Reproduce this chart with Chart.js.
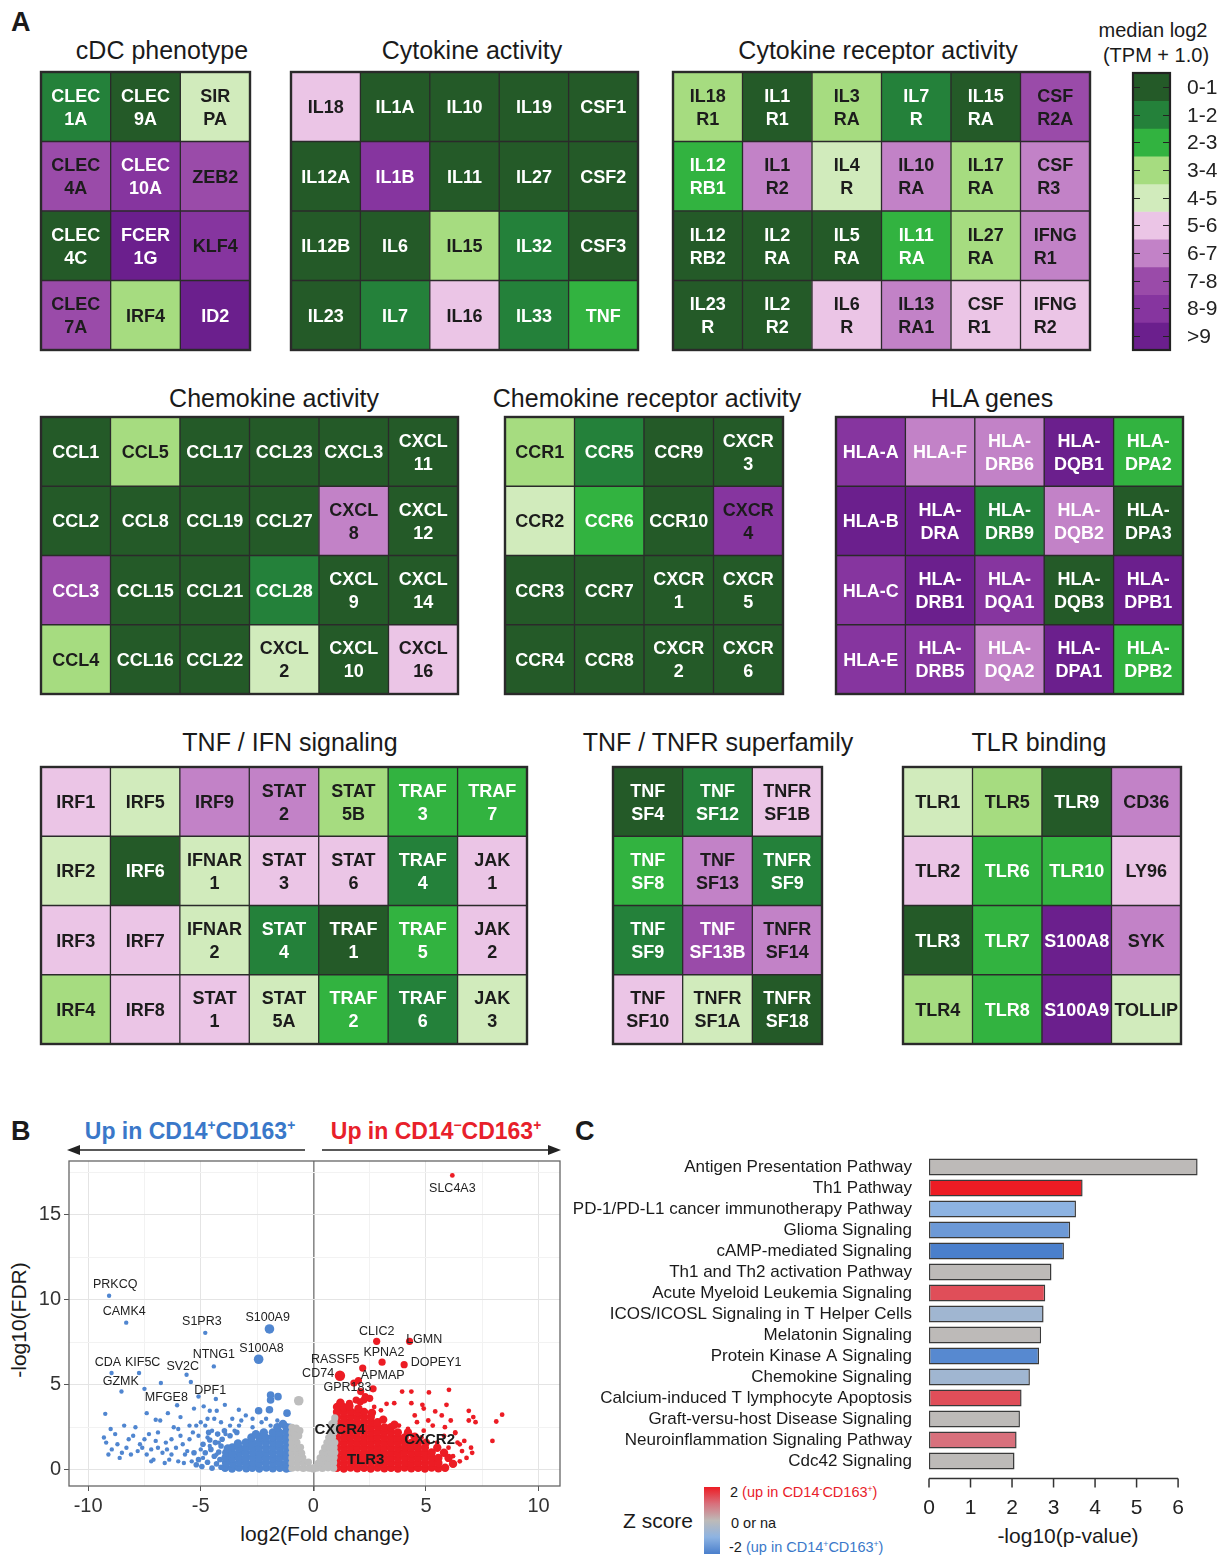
<!DOCTYPE html>
<html><head><meta charset="utf-8">
<script src="https://cdn.jsdelivr.net/npm/chart.js@4.4.1/dist/chart.umd.min.js"></script>
<style>
body{margin:0;background:#fff;width:1220px;height:1555px;position:relative;overflow:hidden;font-family:"Liberation Sans",Arial,sans-serif;color:#1a1a1a}
.t{position:absolute;white-space:nowrap;transform:translate(-50%,-50%);font-size:25px;line-height:1}
.l{position:absolute;white-space:nowrap;line-height:1}
.lt{position:absolute;font-weight:bold;font-size:27px;line-height:1}
canvas{position:absolute;display:block}
sup{font-size:0.6em;vertical-align:0.6em;line-height:0}
</style></head><body>
<div class="lt" style="left:11px;top:9px">A</div>
<div class="lt" style="left:11px;top:1118px">B</div>
<div class="lt" style="left:575px;top:1118px">C</div>

<div class="t" style="left:162px;top:50px">cDC phenotype</div>
<div class="t" style="left:472px;top:50px">Cytokine activity</div>
<div class="t" style="left:878px;top:50px">Cytokine receptor activity</div>
<div class="t" style="left:1153px;top:30px;font-size:20px">median log2</div>
<div class="t" style="left:1156px;top:55px;font-size:20px">(TPM + 1.0)</div>
<div class="t" style="left:274px;top:398px">Chemokine activity</div>
<div class="t" style="left:647px;top:398px">Chemokine receptor activity</div>
<div class="t" style="left:992px;top:398px">HLA genes</div>
<div class="t" style="left:290px;top:742px">TNF / IFN signaling</div>
<div class="t" style="left:718px;top:742px">TNF / TNFR superfamily</div>
<div class="t" style="left:1039px;top:742px">TLR binding</div>

<div class="t" style="left:190px;top:1131px;font-size:23px;font-weight:bold;color:#3a78c9">Up in CD14<sup>+</sup>CD163<sup>+</sup></div>
<div class="t" style="left:436px;top:1131px;font-size:23px;font-weight:bold;color:#e8202a">Up in CD14<sup>&minus;</sup>CD163<sup>+</sup></div>
<svg style="position:absolute;left:0;top:1140px" width="570" height="20">
<line x1="76" y1="10" x2="305" y2="10" stroke="#222" stroke-width="1.4"/>
<polygon points="67,10 80,5 80,15" fill="#222"/>
<line x1="322" y1="10" x2="552" y2="10" stroke="#222" stroke-width="1.4"/>
<polygon points="561,10 548,5 548,15" fill="#222"/>
</svg>
<div class="t" style="left:18px;top:1320px;font-size:21px;transform:translate(-50%,-50%) rotate(-90deg)">-log10(FDR)</div>
<div class="t" style="left:325px;top:1533px;font-size:21px">log2(Fold change)</div>

<div class="t" style="left:1068px;top:1535px;font-size:21px">-log10(p-value)</div>
<div class="t" style="left:658px;top:1520px;font-size:21px">Z score</div>
<div style="position:absolute;left:704px;top:1487px;width:16px;height:67px;background:linear-gradient(to bottom,#ed1c24 0%,#d8707c 25%,#bdbab8 50%,#8db3e2 75%,#4a7fcc 100%)"></div>
<div class="l" style="left:730px;top:1485px;font-size:14.5px">2 <span style="color:#e8202a">(up in CD14<sup>-</sup>CD163<sup>+</sup>)</span></div>
<div class="l" style="left:731px;top:1516px;font-size:14.5px">0 or na</div>
<div class="l" style="left:729px;top:1540px;font-size:14.5px">-2 <span style="color:#3a78c9">(up in CD14<sup>+</sup>CD163<sup>+</sup>)</span></div>

<script>
// ---------------- DATA ----------------
const levelLabels = ['0-1','1-2','2-3','3-4','4-5','5-6','6-7','7-8','8-9','>9'];

const cdcGenes = [
 ['CLEC\n1A','CLEC\n9A','SIR\nPA'],
 ['CLEC\n4A','CLEC\n10A','ZEB2'],
 ['CLEC\n4C','FCER\n1G','KLF4'],
 ['CLEC\n7A','IRF4','ID2']];
const cdcLevels = [[1,0,4],[7,8,7],[0,9,8],[7,3,9]];

const cytoGenes = [
 ['IL18','IL1A','IL10','IL19','CSF1'],
 ['IL12A','IL1B','IL11','IL27','CSF2'],
 ['IL12B','IL6','IL15','IL32','CSF3'],
 ['IL23','IL7','IL16','IL33','TNF']];
const cytoLevels = [[5,0,0,0,0],[0,8,0,0,0],[0,0,3,1,0],[0,1,5,1,2]];

const cytoRecGenes = [
 ['IL18\nR1','IL1\nR1','IL3\nRA','IL7\nR','IL15\nRA','CSF\nR2A'],
 ['IL12\nRB1','IL1\nR2','IL4\nR','IL10\nRA','IL17\nRA','CSF\nR3'],
 ['IL12\nRB2','IL2\nRA','IL5\nRA','IL11\nRA','IL27\nRA','IFNG\nR1'],
 ['IL23\nR','IL2\nR2','IL6\nR','IL13\nRA1','CSF\nR1','IFNG\nR2']];
const cytoRecLevels = [[3,0,3,1,0,7],[2,6,4,6,3,6],[0,0,0,2,3,6],[0,0,5,6,5,5]];

const chemoGenes = [
 ['CCL1','CCL5','CCL17','CCL23','CXCL3','CXCL\n11'],
 ['CCL2','CCL8','CCL19','CCL27','CXCL\n8','CXCL\n12'],
 ['CCL3','CCL15','CCL21','CCL28','CXCL\n9','CXCL\n14'],
 ['CCL4','CCL16','CCL22','CXCL\n2','CXCL\n10','CXCL\n16']];
const chemoLevels = [[0,3,0,0,0,0],[0,0,0,0,6,0],[7,0,0,1,0,0],[3,0,0,4,0,5]];

const chemoRecGenes = [
 ['CCR1','CCR5','CCR9','CXCR\n3'],
 ['CCR2','CCR6','CCR10','CXCR\n4'],
 ['CCR3','CCR7','CXCR\n1','CXCR\n5'],
 ['CCR4','CCR8','CXCR\n2','CXCR\n6']];
const chemoRecLevels = [[3,1,0,0],[4,2,0,8],[0,0,0,0],[0,0,0,0]];

const hlaGenes = [
 ['HLA-A','HLA-F','HLA-\nDRB6','HLA-\nDQB1','HLA-\nDPA2'],
 ['HLA-B','HLA-\nDRA','HLA-\nDRB9','HLA-\nDQB2','HLA-\nDPA3'],
 ['HLA-C','HLA-\nDRB1','HLA-\nDQA1','HLA-\nDQB3','HLA-\nDPB1'],
 ['HLA-E','HLA-\nDRB5','HLA-\nDQA2','HLA-\nDPA1','HLA-\nDPB2']];
const hlaLevels = [[8,6,6,9,2],[9,9,1,6,0],[8,9,8,0,9],[8,8,6,9,2]];

const ifnGenes = [
 ['IRF1','IRF5','IRF9','STAT\n2','STAT\n5B','TRAF\n3','TRAF\n7'],
 ['IRF2','IRF6','IFNAR\n1','STAT\n3','STAT\n6','TRAF\n4','JAK\n1'],
 ['IRF3','IRF7','IFNAR\n2','STAT\n4','TRAF\n1','TRAF\n5','JAK\n2'],
 ['IRF4','IRF8','STAT\n1','STAT\n5A','TRAF\n2','TRAF\n6','JAK\n3']];
const ifnLevels = [[5,4,6,6,3,2,2],[4,0,4,5,5,1,5],[5,5,4,1,0,2,5],[3,5,5,4,2,1,4]];

const tnfGenes = [
 ['TNF\nSF4','TNF\nSF12','TNFR\nSF1B'],
 ['TNF\nSF8','TNF\nSF13','TNFR\nSF9'],
 ['TNF\nSF9','TNF\nSF13B','TNFR\nSF14'],
 ['TNF\nSF10','TNFR\nSF1A','TNFR\nSF18']];
const tnfLevels = [[0,1,5],[2,6,1],[1,7,6],[5,4,0]];

const tlrGenes = [
 ['TLR1','TLR5','TLR9','CD36'],
 ['TLR2','TLR6','TLR10','LY96'],
 ['TLR3','TLR7','S100A8','SYK'],
 ['TLR4','TLR8','S100A9','TOLLIP']];
const tlrLevels = [[4,3,0,6],[5,2,2,5],[0,2,9,6],[3,2,9,4]];

// volcano (log2FC, -log10 FDR)
const grayPts = [[-0.95,0.1],[-0.7,0.12],[-0.45,0.08],[-0.2,0.1],[-0.95,0.4],[-0.7,0.42],[-0.45,0.38],[-0.22,0.45],[-0.95,0.7],[-0.7,0.72],[-0.47,0.7],[-0.95,1.0],[-0.72,1.02],[-0.52,0.98],[-0.95,1.3],[-0.7,1.3],[-0.57,1.32],[-0.95,1.6],[-0.73,1.62],[-0.95,1.9],[-0.8,1.88],[-0.95,2.2],[-0.85,2.2],[-0.95,2.5],[-0.76,2.45],[-0.6,2.3],[-0.65,2.0],
 [0.0,0.05],[-0.1,0.1],[0.06,0.15],[0.15,0.1],[0.4,0.08],[0.65,0.12],[0.9,0.1],[0.22,0.4],[0.42,0.42],[0.65,0.38],[0.9,0.42],[0.3,0.7],[0.5,0.72],[0.7,0.68],[0.92,0.72],[0.4,1.0],[0.6,1.02],[0.8,0.98],[0.95,1.02],[0.5,1.3],[0.7,1.32],[0.92,1.3],[0.6,1.6],[0.78,1.62],[0.95,1.6],[0.68,1.9],[0.85,1.92],[0.75,2.2],[0.92,2.22],[0.85,2.5],[0.95,2.52],[0.92,2.8],[0.95,3.05],[0.82,2.7]];
const grayBig = [[-0.65,4.06]];
const bluePts = [[-9.24,3.29],[-9.2,1.6],[-8.95,1.2],[-9.1,0.9],[-8.6,0.7],[-8.3,1.3],[-8.2,1.8],[-8.0,2.0],[-7.7,1.5],[-7.6,1.3],[-7.4,0.9],[-7.2,1.2],[-7.0,1.7],[-6.9,1.3],[-6.7,1.0],[-6.5,1.2],[-6.4,0.6],[-6.2,2.5],[-6.0,2.4],[-6.0,0.5],[-5.8,1.5],[-5.7,0.9],[-5.5,2.6],[-5.4,0.5],[-5.2,2.6],[-5.1,2.0],[-5.0,1.2],[-4.9,0.7],[-4.8,2.6],[-4.7,1.9],[-4.6,1.4],[-4.5,2.3],[-4.4,3.0],[-4.3,0.9],[-4.2,1.6],[-4.1,2.8],[-8.8,2.1],[-7.9,2.5],[-7.3,2.1],[-6.8,2.9],[-6.3,1.8],[-5.9,3.1],[-5.3,3.6],[-9.3,1.9],[-8.5,1.0],[-7.1,0.6],[-6.6,0.4],[-5.6,1.1],[-4.6,3.47],[-4.29,3.47],[-3.93,3.82],[-3.31,3.53],[-4.87,3.73],[-4.33,4.16],[-5.1,4.31],[-5.44,5.16],[-6.77,5.1],[-8.52,4.6],[-7.4,3.33],[-7.0,2.94],[-6.46,3.33],[-2.7,3.0],[-3.0,3.2],[-2.1,3.0],[-1.6,2.9],[-3.6,3.0],[-3.9,2.1],[-3.5,2.3],[-3.3,2.6],[-3.2,2.9],[-2.7,2.5],[-2.3,2.8],[-1.9,2.6],[-3.7,2.6],
 [-8.7,1.5],[-8.1,0.9],[-7.8,1.1],[-7.5,1.8],[-7.2,0.5],[-6.9,2.2],[-6.55,1.6],[-6.3,0.9],[-6.1,1.3],[-5.9,2.0],[-5.75,0.4],[-5.5,1.8],[-5.35,2.2],[-5.0,2.8],[-4.7,3.0],[-6.05,3.8],[-8.4,2.6],[-9.0,2.4],
 [-9.07,10.23],[-8.31,8.65],[-4.8,8.05],[-4.42,6.08],[-8.96,5.69],[-7.74,5.69],[-5.63,5.59],[-7.5,4.76]];
const blueEdge = [[-4.1,0.15],[-4.3,0.35],[-4.5,0.1],[-4.15,0.6],[-4.4,0.8],[-4.7,0.45],[-4.95,0.2],[-4.2,1.05],[-4.55,1.2],[-4.1,1.4],[-4.8,1.0],[-4.35,1.6],[-4.05,1.8],[-4.6,1.75],[-4.9,1.5],[-4.25,2.1],[-3.95,2.3],[-5.1,0.6],[-5.3,1.0],[-5.2,0.3],[-4.65,2.2],[-3.7,2.0],[-3.4,2.2]];
const blueDense = [[-3.92,0.12],[-3.61,0.08],[-3.3,0.13],[-2.98,0.09],[-2.71,0.12],[-2.4,0.08],[-2.09,0.13],[-1.8,0.09],[-1.49,0.12],[-1.2,0.08],[-1.05,0.14],
 [-3.88,0.42],[-3.58,0.38],[-3.27,0.43],[-2.99,0.39],[-2.68,0.42],[-2.41,0.37],[-2.1,0.43],[-1.79,0.4],[-1.51,0.42],[-1.21,0.38],[-1.04,0.44],
 [-3.9,0.71],[-3.6,0.68],[-3.31,0.73],[-3.0,0.7],[-2.7,0.72],[-2.39,0.68],[-2.11,0.73],[-1.8,0.69],[-1.5,0.72],[-1.19,0.7],[-1.05,0.74],
 [-3.87,1.0],[-3.59,0.98],[-3.28,1.03],[-3.01,0.99],[-2.69,1.02],[-2.4,0.98],[-2.1,1.03],[-1.81,0.99],[-1.49,1.02],[-1.2,0.98],[-1.04,1.04],
 [-3.6,1.31],[-3.3,1.28],[-2.99,1.33],[-2.7,1.29],[-2.41,1.32],[-2.1,1.28],[-1.79,1.33],[-1.5,1.29],[-1.2,1.32],[-1.05,1.3],
 [-3.0,1.61],[-2.7,1.58],[-2.4,1.63],[-2.11,1.59],[-1.8,1.62],[-1.5,1.58],[-1.19,1.63],[-1.05,1.6],
 [-2.4,1.9],[-2.1,1.88],[-1.8,1.93],[-1.5,1.89],[-1.2,1.92],[-1.05,1.9],
 [-1.8,2.2],[-1.5,2.18],[-1.2,2.23],[-1.05,2.2],[-1.2,2.5],[-1.05,2.48],
 [-3.35,1.55],[-2.75,1.9],[-2.2,2.2],[-1.6,2.5],[-1.35,2.7],[-2.55,2.1],[-3.8,1.25]];
const blueMid = [[-1.9,4.4],[-1.9,4.1],[-1.57,4.3],[-1.17,3.33],[-2.43,3.47],[-1.95,3.53]];
const blueBig = [[-1.95,8.28],[-2.43,6.5]];
const redDense = [[1.05,0.12],[1.35,0.08],[1.65,0.13],[1.95,0.09],[2.25,0.12],[2.55,0.08],[2.85,0.13],[3.15,0.09],[3.45,0.12],[3.75,0.08],[4.05,0.13],[4.35,0.09],[4.65,0.12],[4.95,0.08],[5.25,0.13],[5.55,0.09],[5.85,0.12],
 [1.04,0.42],[1.35,0.38],[1.66,0.43],[1.95,0.39],[2.24,0.42],[2.55,0.38],[2.86,0.43],[3.15,0.39],[3.44,0.42],[3.75,0.38],[4.06,0.43],[4.35,0.39],[4.64,0.42],[4.95,0.38],[5.26,0.43],[5.55,0.4],
 [1.05,0.71],[1.34,0.68],[1.65,0.73],[1.96,0.69],[2.25,0.72],[2.54,0.68],[2.85,0.73],[3.16,0.69],[3.45,0.72],[3.74,0.68],[4.05,0.73],[4.36,0.69],[4.65,0.72],[4.94,0.68],[5.25,0.73],[5.55,0.7],
 [1.05,1.0],[1.35,0.98],[1.64,1.03],[1.95,0.99],[2.26,1.02],[2.55,0.98],[2.84,1.03],[3.15,0.99],[3.46,1.02],[3.75,0.98],[4.04,1.03],[4.35,0.99],[4.66,1.02],[4.95,0.98],[5.25,1.02],
 [1.04,1.31],[1.35,1.28],[1.66,1.33],[1.95,1.29],[2.24,1.32],[2.55,1.28],[2.86,1.33],[3.15,1.29],[3.44,1.32],[3.75,1.28],[4.06,1.33],[4.35,1.29],[4.64,1.32],[4.95,1.3],
 [1.05,1.61],[1.34,1.58],[1.65,1.63],[1.96,1.59],[2.25,1.62],[2.54,1.58],[2.85,1.63],[3.16,1.59],[3.45,1.62],[3.74,1.58],[4.05,1.63],[4.36,1.59],[4.65,1.6],
 [1.05,1.9],[1.35,1.88],[1.64,1.93],[1.95,1.89],[2.26,1.92],[2.55,1.88],[2.84,1.93],[3.15,1.89],[3.46,1.92],[3.75,1.88],[4.05,1.9],
 [1.04,2.21],[1.35,2.18],[1.66,2.23],[1.95,2.19],[2.24,2.22],[2.55,2.18],[2.86,2.23],[3.15,2.19],[3.44,2.22],[3.75,2.2],
 [1.05,2.5],[1.34,2.48],[1.65,2.53],[1.96,2.49],[2.25,2.52],[2.54,2.48],[2.85,2.53],[3.16,2.49],[3.45,2.5],
 [1.05,2.8],[1.35,2.78],[1.64,2.83],[1.95,2.79],[2.26,2.82],[2.55,2.78],[2.85,2.8],
 [1.04,3.11],[1.35,3.08],[1.66,3.13],[1.95,3.09],[2.24,3.12],[2.55,3.1],
 [1.05,3.4],[1.34,3.38],[1.65,3.43],[1.96,3.39],[2.25,3.4],[1.05,3.7],[1.35,3.68],
 [1.2,3.95],[1.6,3.75],[2.0,3.6],[2.6,3.35],[3.1,2.95],[3.6,2.65],[4.2,2.2],[4.5,1.95],[5.0,1.6],[5.5,1.3],[6.0,0.7],[6.2,0.35],[5.8,1.0]];
const redPts = [[4.6,2.8],[4.9,2.3],[5.3,2.6],[5.5,1.6],[5.7,3.2],[5.8,2.0],[6.0,1.3],[6.1,2.9],[6.2,0.8],[6.3,2.2],[6.4,1.6],[6.5,0.5],[6.6,1.1],[6.7,1.7],[6.8,0.7],[6.9,2.9],[7.0,1.3],[7.05,1.0],[7.1,3.1],[7.2,2.8],[6.5,1.5],[7.95,1.7],[8.12,2.84],[8.38,3.24],[6.9,3.47],[5.84,2.51],[6.3,2.16],[4.8,1.9],[4.5,3.2],[4.4,2.0],[4.9,3.6],[5.1,2.9],[3.94,4.6],[4.35,4.6],[5.13,4.55],[6.02,4.7],[3.25,3.88],[3.59,3.92],[4.35,3.92],[4.84,3.82],[5.41,3.43],[5.91,3.82],[3.0,3.5],[2.7,3.7],[3.8,2.6],[4.2,2.4],[6.17,17.3]];
const redMid = [[2.81,7.55],[4.27,7.55],[3.05,6.33],[4.03,6.18],[2.19,5.98],[2.0,5.25],[2.65,4.76],[1.8,5.1],[2.1,4.6],[2.5,4.2],[2.08,4.0],[2.24,4.1],[2.3,4.3],[1.9,4.1],[1.6,3.9],[1.3,3.7]];
const redBig = [[1.18,5.53]];
const volcanoLabels = [
 ['SLC4A3',6.17,16.54],['PRKCQ',-8.8,10.9],['CAMK4',-8.4,9.28],['S1PR3',-4.95,8.73],['S100A9',-2.03,8.95],
 ['CLIC2',2.81,8.1],['LGMN',4.92,7.65],['S100A8',-2.3,7.1],['NTNG1',-4.42,6.76],['KPNA2',3.13,6.9],
 ['DOPEY1',5.45,6.33],['RASSF5',0.97,6.5],['CDA',-9.12,6.33],['KIF5C',-7.58,6.33],['SV2C',-5.8,6.08],
 ['CD74',0.21,5.63],['APMAP',3.08,5.55],['GPR183',1.51,4.86],['GZMK',-8.55,5.16],['MFGE8',-6.53,4.22],['DPF1',-4.58,4.67]];
const volcanoBoldLabels = [['CXCR4',1.18,2.35],['CXCR2',5.16,1.76],['TLR3',2.32,0.59]];
const volcanoXTicks = [-10,-5,0,5,10];
const volcanoYTicks = [0,5,10,15];

// pathway enrichment
const pathways = ['Antigen Presentation Pathway','Th1 Pathway','PD-1/PD-L1 cancer immunotherapy Pathway','Glioma Signaling','cAMP-mediated Signaling','Th1 and Th2 activation Pathway','Acute Myeloid Leukemia Signaling','ICOS/ICOSL Signaling in T Helper Cells','Melatonin Signaling','Protein Kinase A Signaling','Chemokine Signaling','Calcium-induced T lymphocyte Apoptosis','Graft-versu-host Disease Signaling','Neuroinflammation Signaling Pathway','Cdc42 Signaling'];
const negLogP = [6.47,3.70,3.54,3.40,3.25,2.95,2.80,2.76,2.70,2.65,2.43,2.23,2.19,2.11,2.06];
const zScores = [0,2,-1.0,-1.5,-2,0,1.4,-0.6,0,-1.8,-0.6,1.4,0,1.0,0];
const pTicks = [0,1,2,3,4,5,6];

// ---------------- STYLE ----------------
Chart.defaults.font.family = '"Liberation Sans", Arial, sans-serif';
Chart.defaults.color = '#222';
const palette = ['#245a28','#24813a','#32b340','#a6dc80','#d1ebbc','#ebc5e6','#c282c7','#9a4ba9','#86359f','#6b1f8d'];
const darkInk = new Set(['CLEC\n4A','ZEB2','KLF4','CLEC\n7A','CSF\nR2A','CXCR\n4']);
const lightInk = new Set(['HLA-F','HLA-\nDRB6','HLA-\nDQB2','HLA-\nDQA2']);
const leftBlock = new Set(['IL10\nRA','IL15\nRA','IL17\nRA','IL11\nRA','IL27\nRA','IL13\nRA1','CSF\nR1','CSF\nR2A','CSF\nR3','IFNG\nR1','IFNG\nR2']);
function ink(g, lv){
  if (lightInk.has(g)) return '#ffffff';
  if (darkInk.has(g)) return '#1c1c1c';
  return (lv <= 2 || lv >= 7) ? '#ffffff' : '#1c1c1c';
}

const heatPlugin = {
  id: 'heat',
  afterDraw(chart, args, opt){
    const {ctx, chartArea:a, scales:{x, y}} = chart;
    ctx.save();
    const fs = 18, lh = 23;
    ctx.font = `bold ${fs}px "Liberation Sans", Arial, sans-serif`;
    ctx.textBaseline = 'alphabetic';
    chart.data.datasets.forEach((ds, r) => {
      chart.getDatasetMeta(r).data.forEach((el, c) => {
        const g = ds.genes[c];
        const lines = g.split('\n');
        const cx = el.x, cy = (el.y + el.base) / 2;
        ctx.fillStyle = ink(g, ds.lv[c]);
        const y0 = cy - (lines.length - 1) * lh / 2;
        if (leftBlock.has(g)) {
          const w = Math.max(...lines.map(s => ctx.measureText(s).width));
          ctx.textAlign = 'left';
          lines.forEach((s, i) => ctx.fillText(s, cx - w / 2, y0 + i * lh + fs * 0.36));
        } else {
          ctx.textAlign = 'center';
          lines.forEach((s, i) => ctx.fillText(s, cx, y0 + i * lh + fs * 0.36));
        }
      });
    });
    ctx.strokeStyle = '#2a2a2a';
    ctx.lineWidth = 1.3;
    ctx.beginPath();
    for (let c = 1; c < opt.cols; c++) {
      const px = (x.getPixelForValue(c - 1) + x.getPixelForValue(c)) / 2;
      ctx.moveTo(px, a.top); ctx.lineTo(px, a.bottom);
    }
    for (let r = 1; r < opt.rows; r++) {
      const py = y.getPixelForValue(r);
      ctx.moveTo(a.left, py); ctx.lineTo(a.right, py);
    }
    ctx.stroke();
    ctx.lineWidth = 2.4;
    ctx.strokeRect(a.left, a.top, a.width, a.height);
    ctx.restore();
  }
};

function heatmap(genes, levels, l, t, w, h){
  const m = 2, nR = genes.length, nC = genes[0].length;
  const cv = document.createElement('canvas');
  cv.width = w + 2 * m; cv.height = h + 2 * m;
  cv.style.left = (l - m) + 'px'; cv.style.top = (t - m) + 'px';
  document.body.appendChild(cv);
  const datasets = genes.map((row, r) => ({
    data: row.map(() => [r, r + 1]),
    backgroundColor: levels[r].map(v => palette[v]),
    borderWidth: 0, grouped: false, categoryPercentage: 1, barPercentage: 1,
    genes: row, lv: levels[r]
  }));
  new Chart(cv, {
    type: 'bar',
    data: {labels: genes[0].map((_, c) => c), datasets},
    options: {
      responsive: false, animation: false, events: [],
      layout: {padding: m},
      plugins: {legend: {display: false}, tooltip: {enabled: false}, heat: {rows: nR, cols: nC}},
      scales: {x: {display: false}, y: {display: false, min: 0, max: nR, reverse: true}}
    },
    plugins: [heatPlugin]
  });
}

heatmap(cdcGenes, cdcLevels, 41, 72, 209, 278);
heatmap(cytoGenes, cytoLevels, 291, 72, 347, 278);
heatmap(cytoRecGenes, cytoRecLevels, 673, 72, 417, 278);
heatmap(chemoGenes, chemoLevels, 41, 417, 417, 277);
heatmap(chemoRecGenes, chemoRecLevels, 505, 417, 278, 277);
heatmap(hlaGenes, hlaLevels, 836, 417, 347, 277);
heatmap(ifnGenes, ifnLevels, 41, 767, 486, 277);
heatmap(tnfGenes, tnfLevels, 613, 767, 209, 277);
heatmap(tlrGenes, tlrLevels, 903, 767, 278, 277);

// -------- colour legend --------
(function(){
  const cv = document.createElement('canvas');
  cv.width = 89; cv.height = 281;
  cv.style.left = '1131px'; cv.style.top = '71px';
  document.body.appendChild(cv);
  new Chart(cv, {
    type: 'bar',
    data: {labels: [''], datasets: levelLabels.map((lab, i) => ({
      data: [[i, i + 1]], backgroundColor: palette[i], borderWidth: 0,
      grouped: false, categoryPercentage: 1, barPercentage: 1}))},
    options: {
      responsive: false, animation: false, events: [],
      layout: {padding: {left: 2, top: 2, bottom: 2, right: 50}},
      plugins: {legend: {display: false}, tooltip: {enabled: false}},
      scales: {x: {display: false}, y: {display: false, min: 0, max: 10, reverse: true}}
    },
    plugins: [{id: 'lg', afterDraw(chart){
      const {ctx, chartArea:a, scales:{y}} = chart;
      ctx.save();
      ctx.strokeStyle = '#222'; ctx.lineWidth = 1.2;
      ctx.font = '21px "Liberation Sans", Arial, sans-serif';
      ctx.fillStyle = '#222'; ctx.textAlign = 'left'; ctx.textBaseline = 'middle';
      levelLabels.forEach((lab, i) => {
        const py = Math.round(y.getPixelForValue(i + 0.5)) + 0.5;
        ctx.beginPath();
        ctx.moveTo(a.left, py); ctx.lineTo(a.left + 7, py);
        ctx.moveTo(a.right - 7, py); ctx.lineTo(a.right, py);
        ctx.stroke();
        ctx.fillText(lab, a.right + 17, py + 1);
      });
      ctx.lineWidth = 2.2;
      ctx.strokeRect(a.left, a.top, a.width, a.height);
      ctx.restore();
    }}]
  });
})();

// -------- volcano plot --------
(function(){
  const cv = document.createElement('canvas');
  cv.width = 572; cv.height = 409;
  cv.style.left = '0px'; cv.style.top = '1141px';
  document.body.appendChild(cv);
  const pts = a => a.map(p => ({x: p[0], y: p[1]}));
  const ds = (arr, col, r) => ({data: pts(arr), backgroundColor: col, pointRadius: r, pointBorderWidth: 0, pointHoverRadius: r});
  const isMajor = (v, list) => list.some(t => Math.abs(t - v) < 1e-6);
  const B = '#5086d0', R = '#ec1c24', G = '#bdbdbd';
  new Chart(cv, {
    type: 'scatter',
    data: {datasets: [
      ds(grayPts, G, 3.6), ds(grayBig, G, 4.8),
      ds(blueDense, B, 4.2), ds(blueEdge, B, 2.8), ds(bluePts, B, 2.2), ds(blueMid, B, 3.8), ds(blueBig, B, 4.8),
      ds(redDense, R, 4.2), ds(redPts, R, 2.4), ds(redMid, R, 3.6), ds(redBig, R, 5.2)
    ]},
    options: {
      responsive: false, animation: false, events: [],
      layout: {padding: {top: 20, right: 12, left: 0, bottom: 0}},
      plugins: {legend: {display: false}, tooltip: {enabled: false}},
      scales: {
        x: {type: 'linear', min: -10.85, max: 10.95,
          afterFit: s => { s.height = 64; },
          border: {display: false},
          grid: {tickLength: 5,
            color: c => { const v = c.tick ? c.tick.value : 1; return Math.abs(v) < 1e-6 ? '#8a8a8a' : (isMajor(v, volcanoXTicks) ? '#e4e4e4' : '#f2f2f2'); },
            lineWidth: c => (c.tick && Math.abs(c.tick.value) < 1e-6) ? 1.6 : 1,
            tickColor: c => (c.tick && isMajor(c.tick.value, volcanoXTicks)) ? '#555' : 'rgba(0,0,0,0)'},
          ticks: {stepSize: 2.5, includeBounds: false, autoSkip: false, maxRotation: 0, padding: 3,
            font: {size: 20}, color: '#333',
            callback: v => isMajor(v, volcanoXTicks) ? String(v) : ''}},
        y: {type: 'linear', min: -0.95, max: 18.15,
          afterFit: s => { s.width = 69; },
          border: {display: false},
          grid: {tickLength: 5,
            color: c => { const v = c.tick ? c.tick.value : 1; return isMajor(v, volcanoYTicks) ? '#e4e4e4' : '#f2f2f2'; },
            tickColor: c => (c.tick && isMajor(c.tick.value, volcanoYTicks)) ? '#555' : 'rgba(0,0,0,0)'},
          ticks: {stepSize: 2.5, includeBounds: false, autoSkip: false, padding: 3,
            font: {size: 20}, color: '#333',
            callback: v => isMajor(v, volcanoYTicks) ? String(v) : ''}}
      }
    },
    plugins: [{id: 'vl', afterDraw(chart){
      const {ctx, chartArea:a, scales:{x, y}} = chart;
      ctx.save();
      ctx.strokeStyle = '#666'; ctx.lineWidth = 1.3;
      ctx.strokeRect(a.left, a.top, a.width, a.height);
      ctx.textAlign = 'center'; ctx.textBaseline = 'middle';
      ctx.fillStyle = '#222';
      ctx.font = '12.5px "Liberation Sans", Arial, sans-serif';
      volcanoLabels.forEach(([t, vx, vy]) => ctx.fillText(t, x.getPixelForValue(vx), y.getPixelForValue(vy)));
      ctx.font = 'bold 15px "Liberation Sans", Arial, sans-serif';
      ctx.fillStyle = '#1a1a1a';
      volcanoBoldLabels.forEach(([t, vx, vy]) => ctx.fillText(t, x.getPixelForValue(vx), y.getPixelForValue(vy)));
      ctx.restore();
    }}]
  });
})();

// -------- pathway bars --------
(function(){
  const stops = [[-2,[74,127,204]],[-1,[141,179,226]],[0,[189,186,184]],[1,[216,112,124]],[2,[237,28,36]]];
  function zColor(z){
    z = Math.max(-2, Math.min(2, z));
    for (let i = 0; i < stops.length - 1; i++) {
      const [z0, c0] = stops[i], [z1, c1] = stops[i + 1];
      if (z >= z0 && z <= z1) {
        const f = (z - z0) / (z1 - z0);
        return `rgb(${c0.map((v, k) => Math.round(v + (c1[k] - v) * f)).join(',')})`;
      }
    }
    return 'rgb(189,186,184)';
  }
  const cv = document.createElement('canvas');
  cv.width = 650; cv.height = 439;
  cv.style.left = '570px'; cv.style.top = '1116px';
  document.body.appendChild(cv);
  new Chart(cv, {
    type: 'bar',
    data: {labels: pathways, datasets: [{data: negLogP, backgroundColor: zScores.map(zColor),
      borderColor: '#3a3a3a', borderWidth: 1.5, borderSkipped: false,
      barPercentage: 0.82, categoryPercentage: 1}]},
    options: {
      indexAxis: 'y', responsive: false, animation: false, events: [],
      layout: {padding: {top: 40.5, right: 17, left: 0, bottom: 0}},
      plugins: {legend: {display: false}, tooltip: {enabled: false}},
      scales: {
        y: {afterFit: s => { s.width = 359; },
          grid: {display: false, drawTicks: false}, border: {display: false},
          ticks: {padding: 17, font: {size: 17}, color: '#1a1a1a', autoSkip: false}},
        x: {min: 0, max: 6.6, afterFit: s => { s.height = 83.5; },
          grid: {display: false, drawTicks: false}, border: {display: false},
          ticks: {stepSize: 1, includeBounds: false, padding: 24, font: {size: 21}, color: '#222',
            callback: v => pTicks.includes(v) ? String(v) : ''}}
      }
    },
    plugins: [{id: 'ax', afterDraw(chart){
      const {ctx, chartArea:a, scales:{x}} = chart;
      const yy = a.bottom + 7;
      ctx.save();
      ctx.strokeStyle = '#333'; ctx.lineWidth = 1.5;
      ctx.beginPath();
      ctx.moveTo(x.getPixelForValue(pTicks[0]), yy);
      ctx.lineTo(x.getPixelForValue(pTicks[pTicks.length - 1]), yy);
      pTicks.forEach(v => { const px = x.getPixelForValue(v); ctx.moveTo(px, yy); ctx.lineTo(px, yy + 9); });
      ctx.stroke();
      ctx.restore();
    }}]
  });
})();
</script>
</body></html>
